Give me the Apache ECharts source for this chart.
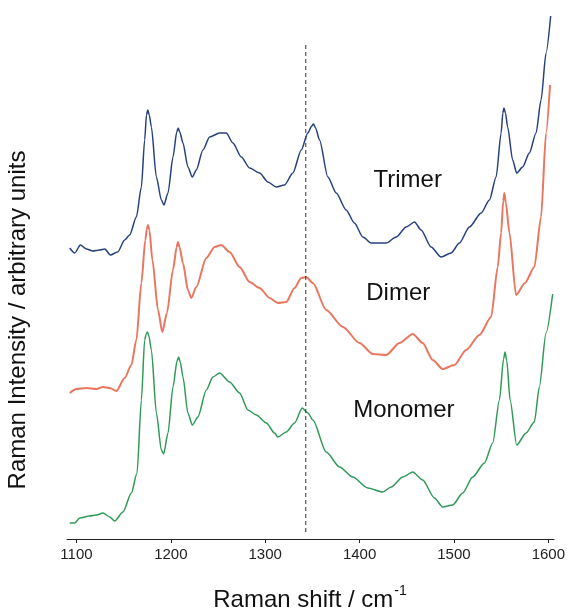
<!DOCTYPE html>
<html>
<head>
<meta charset="utf-8">
<script src="https://cdn.jsdelivr.net/npm/echarts@6/dist/echarts.min.js"></script>
<style>
  html, body { margin: 0; padding: 0; background: #fff; }
  #chart { width: 568px; height: 610px; }
</style>
</head>
<body>
<div id="chart"></div>
<script>
// Raman shift ticks
const xTicks = [1100, 1200, 1300, 1400, 1500, 1600];

// spectra: [Raman shift, intensity (arbitrary, offset)]
const trimer = [
  [1092.9, 291], [1098.2, 286], [1104.2, 294], [1110.6, 290], [1117.3, 288], [1124.7, 289],
  [1130.0, 290], [1136.0, 284], [1143.7, 287], [1151.1, 299], [1156.4, 304], [1163.5, 322],
  [1168.8, 352], [1172.3, 399], [1174.2, 424], [1175.6, 429], [1177.2, 424], [1179.4, 412],
  [1184.7, 362], [1190.0, 339], [1192.7, 334], [1197.0, 346], [1202.3, 382], [1206.3, 407],
  [1207.8, 411], [1209.5, 407], [1212.9, 396], [1218.1, 372], [1222.8, 362], [1227.0, 369],
  [1234.0, 389], [1241.1, 402], [1251.7, 406], [1258.8, 406], [1265.8, 396], [1274.7, 382],
  [1283.5, 371], [1294.1, 366], [1302.9, 357], [1311.7, 352], [1320.5, 354], [1329.3, 366],
  [1338.2, 389], [1345.2, 406], [1349.3, 413], [1351.2, 415], [1353.4, 411], [1357.6, 399],
  [1366.4, 362], [1375.3, 346], [1385.8, 329], [1394.6, 316], [1403.5, 302], [1412.3, 296],
  [1428.2, 296], [1438.8, 302], [1449.4, 312], [1458.2, 317], [1465.2, 309], [1475.8, 292],
  [1486.4, 282], [1497.0, 286], [1505.8, 296], [1516.4, 312], [1528.8, 326], [1537.6, 339],
  [1544.7, 362], [1550.0, 406], [1551.8, 426], [1553.0, 431], [1554.6, 426], [1556.9, 412],
  [1562.2, 379], [1566.5, 366], [1572.8, 372], [1579.9, 386], [1587.0, 406], [1592.3, 439],
  [1597.6, 486], [1602.5, 523]
];
const dimer = [
  [1092.9, 146], [1100.0, 150], [1110.6, 151], [1121.2, 150], [1128.2, 152], [1135.3, 151],
  [1142.3, 148], [1151.1, 161], [1158.2, 174], [1163.5, 199], [1168.8, 256], [1173.0, 299],
  [1174.6, 310], [1175.8, 314], [1177.3, 309], [1180.5, 279], [1186.4, 229], [1191.0, 207],
  [1195.9, 226], [1202.3, 269], [1206.2, 292], [1207.6, 297], [1209.2, 292], [1212.9, 276],
  [1218.1, 249], [1221.7, 241], [1227.0, 252], [1237.6, 281], [1246.4, 292], [1253.5, 294],
  [1262.3, 287], [1272.9, 272], [1283.5, 257], [1294.1, 251], [1304.7, 241], [1313.4, 236],
  [1322.3, 237], [1331.1, 251], [1338.2, 261], [1343.5, 262], [1350.5, 256], [1364.7, 229],
  [1382.3, 212], [1399.9, 196], [1414.0, 185], [1428.2, 184], [1442.3, 196], [1456.4, 205],
  [1466.9, 196], [1477.5, 179], [1488.1, 170], [1500.5, 174], [1512.9, 189], [1527.0, 204],
  [1539.4, 222], [1546.4, 272], [1550.0, 306], [1552.2, 338], [1553.4, 346], [1555.0, 336],
  [1558.8, 306], [1565.8, 244], [1575.3, 256], [1585.2, 272], [1592.3, 322], [1597.6, 406],
  [1601.8, 454]
];
const monomer = [
  [1092.9, 16], [1098.2, 16], [1103.5, 21], [1114.1, 23], [1121.2, 24], [1128.2, 26],
  [1135.3, 22], [1140.5, 18], [1149.3, 27], [1158.2, 46], [1164.2, 66], [1168.8, 139],
  [1172.3, 199], [1173.9, 205], [1175.2, 207], [1176.8, 203], [1179.4, 189], [1184.7, 126],
  [1190.0, 89], [1192.4, 85], [1197.0, 106], [1202.3, 152], [1206.6, 178], [1208.3, 182],
  [1210.0, 177], [1212.9, 162], [1218.1, 126], [1222.8, 114], [1228.7, 122], [1237.6, 149],
  [1244.6, 162], [1251.7, 166], [1262.3, 157], [1272.9, 146], [1281.7, 129], [1290.6, 124],
  [1301.2, 116], [1309.9, 106], [1313.4, 102], [1322.3, 107], [1331.1, 116], [1339.3, 131],
  [1345.2, 126], [1350.5, 119], [1364.7, 87], [1378.8, 72], [1392.8, 62], [1408.7, 51],
  [1424.6, 47], [1433.5, 52], [1445.8, 62], [1456.4, 67], [1466.9, 59], [1479.3, 41],
  [1488.1, 32], [1498.7, 34], [1509.3, 46], [1519.9, 62], [1532.3, 76], [1541.1, 96],
  [1548.2, 139], [1552.6, 180], [1554.2, 187], [1556.0, 178], [1559.5, 139], [1566.5, 94],
  [1576.4, 106], [1585.2, 117], [1590.5, 152], [1597.6, 206], [1604.6, 245]
];

// dashed marker line position and vertical extent
const markerX = 1343;
const markerRange = [7, 494];

// curve names and where their labels sit (data coords)
const names = ['Trimer', 'Dimer', 'Monomer'];
const labelPos = [[1451, 359], [1441, 246], [1447, 129]];
const colors = ['#27407e', '#e9765f', '#2f9a57'];

const FONT = '"Liberation Sans", Arial, sans-serif';

const chart = echarts.init(document.getElementById('chart'));

const spectra = [trimer, dimer, monomer];
const series = spectra.map((d, i) => ({
    name: names[i],
    type: 'line',
    data: d,
    showSymbol: false,
    smooth: 0.25,
    smoothMonotone: 'x',
    lineStyle: { color: colors[i], width: i === 1 ? 2 : 1.5 },
    markPoint: {
        symbol: 'circle',
        symbolSize: 0,
        data: [{ coord: labelPos[i], value: names[i] }],
        label: {
            show: true,
            formatter: names[i],
            color: '#111',
            fontFamily: FONT,
            fontSize: 24,
            position: 'inside'
        }
    },
    z: 3 - i
}));

series.push({
    type: 'line',
    data: [[markerX, markerRange[0]], [markerX, markerRange[1]]],
    showSymbol: false,
    lineStyle: { color: '#333', width: 1, type: [4, 3] },
    z: 5
});

chart.setOption({
    animation: false,
    grid: { left: 67, right: 13, top: 0, bottom: 71 },
    xAxis: {
        type: 'value',
        min: 1090,
        max: 1606,
        axisLine: { show: true, lineStyle: { color: '#222', width: 1 } },
        axisTick: { show: true, length: 4, lineStyle: { color: '#222' }, customValues: xTicks },
        axisLabel: {
            customValues: xTicks,
            formatter: v => String(v),
            color: '#222',
            fontFamily: FONT,
            fontSize: 15,
            margin: 8
        },
        splitLine: { show: false }
    },
    yAxis: {
        type: 'value',
        min: 0,
        max: 539,
        show: false
    },
    graphic: [
        {
            type: 'text',
            x: 310,
            y: 598,
            style: {
                text: '{a|Raman shift / cm}{b|-1}',
                align: 'center',
                verticalAlign: 'middle',
                rich: {
                    a: { fontFamily: FONT, fontSize: 24, fill: '#111', lineHeight: 28, verticalAlign: 'bottom' },
                    b: { fontFamily: FONT, fontSize: 14, fill: '#111', lineHeight: 28, verticalAlign: 'top', padding: [0, 0, 0, 1] }
                }
            }
        },
        {
            type: 'text',
            x: 18,
            y: 320,
            rotation: Math.PI / 2,
            style: {
                text: 'Raman Intensity / arbitrary units',
                fontFamily: FONT,
                fontSize: 24,
                fill: '#111',
                align: 'center',
                verticalAlign: 'middle'
            }
        }
    ],
    series: series
});
</script>
</body>
</html>
